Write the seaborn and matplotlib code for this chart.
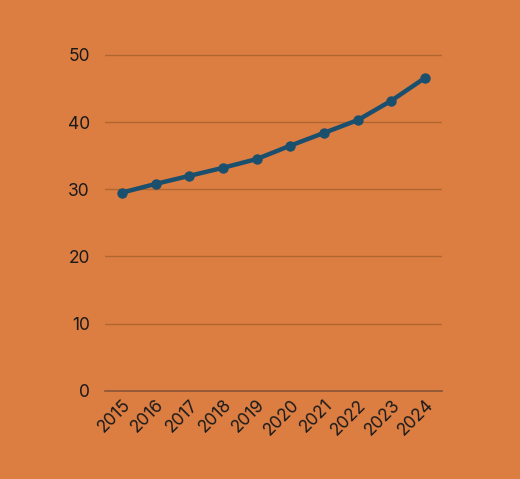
import matplotlib
matplotlib.use("Agg")
import matplotlib.pyplot as plt
import seaborn as sns
import pandas as pd

years = ["2015", "2016", "2017", "2018", "2019", "2020", "2021", "2022", "2023", "2024"]
values = [29.5, 30.8, 32.0, 33.2, 34.5, 36.5, 38.4, 40.3, 43.2, 46.6]
yticks = [0, 10, 20, 30, 40, 50]

df = pd.DataFrame({"year": years, "value": values})

bg = "#DC7E42"
sns.set_theme(style="white")
plt.rcParams['font.family'] = ['Inter', 'DejaVu Sans']

fig = plt.figure(figsize=(5.2, 4.79), dpi=100, facecolor=bg)
ax = fig.add_axes([0.202, 0.184, 0.648, 0.735])
ax.set_facecolor(bg)

sns.lineplot(data=df, x="year", y="value", ax=ax, color="#1A4F6E", linewidth=3.2,
             marker="o", markersize=7.5, markeredgewidth=0, sort=False)

ax.set_xlim(-0.5, len(years) - 0.5)
ax.set_ylim(0, 52.4)
ax.set_yticks(yticks)
ax.set_yticklabels([str(t) for t in yticks])
ax.yaxis.grid(True, color="#B1652F", linewidth=1)
ax.xaxis.grid(False)
ax.set_axisbelow(True)
for s in ["top", "right", "left"]:
    ax.spines[s].set_visible(False)
ax.spines["bottom"].set_color("#8A5535")
ax.spines["bottom"].set_linewidth(1.2)
ax.tick_params(axis="both", length=0, labelsize=12.5, colors="#1a1a1a")
ax.tick_params(axis="y", pad=11)
ax.tick_params(axis="x", pad=4)
plt.setp(ax.get_xticklabels(), rotation=45, ha="right", rotation_mode="anchor")
ax.set_xlabel("")
ax.set_ylabel("")

fig.savefig("out.png", dpi=100, facecolor=bg)
